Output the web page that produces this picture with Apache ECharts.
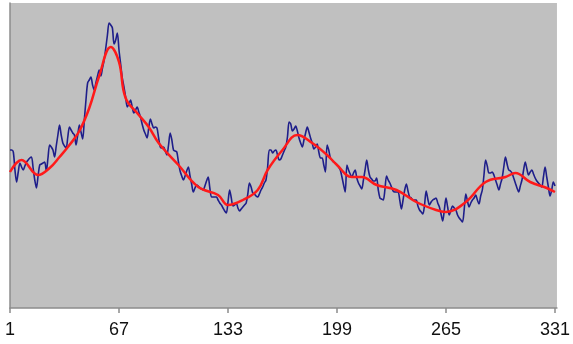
<!DOCTYPE html>
<html>
<head>
<meta charset="utf-8">
<script src="https://cdn.jsdelivr.net/npm/echarts@6/dist/echarts.min.js"></script>
<style>
html,body{margin:0;padding:0;background:#fff;}
#c{width:573px;height:344px;}
</style>
</head>
<body>
<div id="c"></div>
<script>
// Observation values (index 0 = observation "1"), arbitrary units (no y labels in source)
var blueValues = [
158,158,156,138,126,136,145,141,138,142,146,148,
150,151,140,128,120,132,143,144,145,146,137,150,
163,161,158,151,162,173,183,173,165,162,160,171,
181,178,175,173,163,173,183,176,169,188,208,225,
228,231,223,218,225,232,238,232,240,248,260,273,
285,283,280,264,268,275,258,244,230,221,211,201,
204,208,201,195,198,201,196,191,184,178,174,170,
180,189,184,180,181,180,170,161,160,161,157,153,
163,175,168,158,157,156,146,137,132,128,132,137,
141,132,124,116,120,123,122,120,119,118,122,127,
131,120,111,111,111,111,108,105,103,100,97,95,
106,118,110,102,103,105,100,97,99,101,103,105,
114,125,121,115,114,112,111,114,118,121,125,128,
141,158,158,155,157,158,153,148,149,153,157,161,
171,186,184,177,179,182,177,170,165,161,168,175,
181,176,170,165,159,161,164,156,150,150,143,136,
163,158,150,148,146,145,143,141,138,131,123,116,
143,138,134,131,135,138,130,125,122,119,128,138,
148,138,131,129,127,127,130,118,110,109,108,118,
132,128,125,121,117,116,116,116,108,99,108,118,
124,117,111,110,108,108,108,102,98,96,94,103,
117,109,103,106,108,109,110,105,101,94,87,98,
110,101,93,98,102,100,98,93,90,88,86,98,
114,107,101,105,108,110,113,108,104,112,118,133,
148,142,135,135,136,133,128,123,118,124,130,141,
151,144,138,137,135,130,125,120,116,122,128,138,
146,139,133,136,138,134,130,127,125,123,121,131,
141,131,121,112,118,126,122
];

// Smoothed trend (red) knots: observation index and value
var trendIndex  = [0,7,17,24,30,36,42,48,54,61,66,70,78,84,90,102,114,126,132,141,150,156,165,174,183,192,198,207,213,222,234,246,258,264,276,288,300,306,315,325,330];
var trendValues = [136,148,133,140,151,163,177,200,232,261,246,210,193,181,165,143,121,113,103,108,118,138,158,173,165,153,143,131,131,123,118,106,98,96,106,126,131,135,126,120,116];

var tickLabels = ['1','67','133','199','265','331'];

var blueData = blueValues.map(function (v, i) { return [i, v]; });
var trendData = trendIndex.map(function (x, k) { return [x, trendValues[k]]; });

var chart = echarts.init(document.getElementById('c'), null, {renderer: 'canvas'});
chart.setOption({
  animation: false,
  backgroundColor: '#ffffff',
  grid: {
    left: 10, right: 12, top: 3, bottom: 36,
    show: true, backgroundColor: '#c0c0c0', borderWidth: 0
  },
  xAxis: {
    type: 'value',
    min: 0, max: 331.2, interval: 66,
    axisLine: {show: true, lineStyle: {color: '#8c8c8c', width: 1.5}},
    axisTick: {show: true, length: 5, lineStyle: {color: '#8c8c8c', width: 1.5}},
    splitLine: {show: false},
    axisLabel: {
      margin: 13,
      fontFamily: 'Liberation Sans, Arial, sans-serif',
      fontSize: 18,
      color: '#111',
      showMaxLabel: false,
      formatter: function (v) {
        var k = Math.round(v / 66);
        if (Math.abs(v - k * 66) > 1e-6) return '';
        return tickLabels[k] || '';
      }
    }
  },
  yAxis: {
    type: 'value',
    min: 0, max: 305,
    axisLine: {show: true, lineStyle: {color: '#8c8c8c', width: 1.5}},
    axisTick: {show: false},
    axisLabel: {show: false},
    splitLine: {show: false}
  },
  series: [
    {
      type: 'line',
      data: blueData,
      symbol: 'none',
      smooth: 0.3,
      lineStyle: {color: '#1e1e8a', width: 1.6}
    },
    {
      type: 'line',
      data: trendData,
      symbol: 'none',
      smooth: 0.4,
      lineStyle: {color: '#ff1a1a', width: 2.5}
    }
  ]
});
</script>
</body>
</html>
